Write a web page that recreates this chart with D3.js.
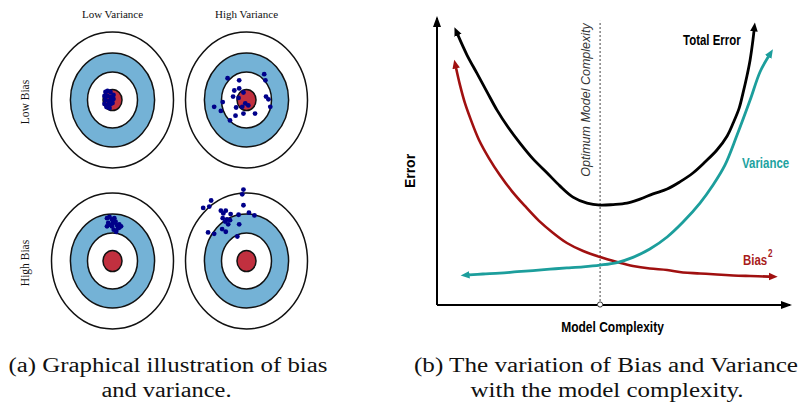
<!DOCTYPE html>
<html><head><meta charset="utf-8">
<script src="https://cdn.jsdelivr.net/npm/d3@7"></script>
<style>html,body{margin:0;padding:0;background:#fff}</style>
</head><body>
<svg id="chart" width="801" height="407"></svg>
<script>
// ---------- Panel (a): bias / variance targets ----------
const varianceLevels = ["Low Variance", "High Variance"];
const biasLevels = ["Low Bias", "High Bias"];
// ring radii in target units (outer ring = 10)
const ringRadii = [10, 6.9, 4.1, 1.56];
const ringFills = ["#ffffff", "#74b2d6", "#ffffff", "#c1303f"];
// shots: [horizontal offset, vertical offset (up = +)] in target units
const shotsLowBiasLowVar = [[-1.15,1.18],[-0.82,1.32],[-0.33,1.18],[-1.31,0.59],[-0.82,0.59],[-0.33,0.44],[-1.15,0],[-0.66,-0.15],[-0.16,0],[0.16,0.74],[-1.31,-0.59],[-0.82,-0.74],[-0.33,-0.59],[0,-0.44],[-0.98,-1.03],[-0.49,-1.18],[0.16,0.15]];
const shotsLowBiasHighVar = [[-3.1,3.2],[-1.2,2.9],[2.9,3.8],[3.1,2.9],[-2.0,1.4],[-1.2,1.7],[-0.5,1.1],[-2.2,0.5],[-1.3,0.3],[-3.9,-0.3],[-5.3,-1.0],[-4.2,-1.6],[-2.7,-3.0],[-1.7,-1.1],[-0.7,-1.0],[-0.2,-0.5],[0.3,-0.8],[-0.5,-2.0],[-1.8,-2.3],[1.4,-2.0],[3.2,0.5],[3.6,0.1],[3.9,-1.0]];
const shotsHighBiasLowVar = [[-0.9,6.3],[-0.7,5.6],[-0.9,5.1],[-0.1,6.1],[0.1,5.6],[0.5,5.8],[0.7,5.3],[1.1,5.4],[1.4,5.1],[0.9,4.8],[0.6,4.3],[-0.1,5.1],[-0.5,6.5],[0.3,6.3],[1.1,4.9],[0.2,4.6],[-0.3,5.3]];
const shotsHighBiasHighVar = [[-0.5,10.5],[-0.7,9.8],[-5.8,8.9],[-6.1,8.0],[-7.1,7.8],[-0.5,8.2],[-4.2,7.4],[-3.4,7.4],[-3.8,7.0],[-2.6,6.9],[-1.3,6.8],[0.4,7.1],[1.3,6.7],[-3.9,6.3],[-3.2,6.1],[-2.7,6.0],[-3.5,5.8],[-3.0,5.4],[-1.2,5.4],[-4.0,4.7],[-3.4,4.3],[-6.3,4.2],[-5.3,4.0],[-1.5,3.6]];

// ---------- Panel (b): error vs model complexity ----------
// [complexity, error] on 0-100 scales
const totalError = [[5.9,94.1],[8.5,87.1],[11.3,80.8],[14.2,74.2],[17.0,67.9],[20.1,62.0],[23.5,56.4],[27.2,50.9],[31.2,46.0],[34.8,41.5],[38.5,37.6],[42.5,35.5],[46.2,34.8],[49.9,35.0],[53.8,35.5],[57.5,36.9],[61.2,38.7],[65.2,40.4],[68.8,42.9],[72.5,46.0],[75.9,49.8],[79.3,54.0],[82.2,58.9],[83.9,63.4],[85.6,68.6],[86.7,73.9],[87.8,79.8],[88.7,85.4],[89.5,92.3],[89.8,95.5]];
const biasSquared = [[5.4,82.6],[6.5,76.7],[7.9,70.4],[9.6,64.5],[11.9,57.5],[14.7,51.2],[17.8,45.3],[21.2,39.7],[24.9,34.5],[28.9,29.3],[32.9,25.1],[36.8,21.6],[41.4,18.8],[46.2,16.7],[51.0,15.0],[55.5,13.6],[60.3,12.7],[65.2,12.2],[69.7,11.3],[74.5,11.0],[79.3,10.6],[83.9,10.3],[88.7,10.1],[94.1,9.9]];
const variance = [[9.1,10.5],[13.0,10.8],[17.8,11.1],[22.7,11.6],[27.2,12.0],[32.0,12.5],[36.8,12.9],[41.4,13.3],[46.2,13.9],[51.0,14.8],[55.5,16.6],[60.3,19.5],[65.2,23.7],[69.7,28.9],[74.5,35.5],[78.2,41.8],[81.6,48.8],[85.0,59.2],[88.7,71.4],[91.5,81.2],[93.9,86.6]];
const optimumComplexity = 46.2;
const seriesLabels = ["Total Error", "Variance", "Bias", "2"];
const axisLabels = ["Error", "Model Complexity", "Optimum Model Complexity"];
const captionA = ["(a) Graphical illustration of bias", "and variance."];
const captionB = ["(b) The variation of Bias and Variance", "with the model complexity."];

const svg = d3.select("#chart");
const defs = svg.append("defs");
function marker(id, color, len, half, refX) {
  defs.append("marker").attr("id", id).attr("markerUnits", "userSpaceOnUse")
    .attr("viewBox", `0 ${-half - 1} ${len + 1} ${2 * half + 2}`)
    .attr("markerWidth", len + 1).attr("markerHeight", 2 * half + 2)
    .attr("refX", refX).attr("refY", 0).attr("orient", "auto-start-reverse")
    .append("path").attr("d", `M0,${-half}L${len},0L0,${half}Z`).attr("fill", color);
}
const cBlack = "#000000", cRed = "#a01010", cTeal = "#1c9e9c";
marker("mAxis", "#000", 11, 4, 9);
marker("mBlack", cBlack, 9, 3.8, 0.5);
marker("mRed", cRed, 9, 3.8, 0.5);
marker("mTeal", cTeal, 9, 3.8, 0.5);

// ----- panel a -----
const colX = d3.scalePoint().domain(varianceLevels).range([112.5, 246.5]);
const rowY = d3.scalePoint().domain(biasLevels).range([100, 261]);
const ux = d3.scaleLinear().domain([0, 10]).range([0, 61]);
const uy = d3.scaleLinear().domain([0, 10]).range([0, -68]);
const shots = {
  "Low Bias": {"Low Variance": shotsLowBiasLowVar, "High Variance": shotsLowBiasHighVar},
  "High Bias": {"Low Variance": shotsHighBiasLowVar, "High Variance": shotsHighBiasHighVar}
};
const cells = [];
biasLevels.forEach(b => varianceLevels.forEach(v => cells.push({b, v, shots: shots[b][v]})));
const gA = svg.append("g");
const cellG = gA.selectAll("g.cell").data(cells).join("g")
  .attr("transform", d => `translate(${colX(d.v)},${rowY(d.b)})`);
cellG.selectAll("ellipse").data(ringRadii.map((r, i) => ({r, fill: ringFills[i]}))).join("ellipse")
  .attr("rx", d => ux(d.r)).attr("ry", d => -uy(d.r))
  .attr("fill", d => d.fill).attr("stroke", "#111").attr("stroke-width", 1.5);
cellG.selectAll("circle").data(d => d.shots).join("circle")
  .attr("cx", d => ux(d[0])).attr("cy", d => uy(d[1])).attr("r", 2.4).attr("fill", "#00008a");

const serif = "'Liberation Serif','Times New Roman',serif";
gA.selectAll("text.col").data(varianceLevels).join("text")
  .attr("x", d => colX(d)).attr("y", 17.5).attr("text-anchor", "middle")
  .attr("font-family", serif).attr("font-size", 11).attr("fill", "#111").text(d => d);
gA.selectAll("text.row").data(biasLevels).join("text")
  .attr("transform", d => `translate(29,${rowY(d) + 2}) rotate(-90)`).attr("text-anchor", "middle")
  .attr("font-family", serif).attr("font-size", 11.5).attr("fill", "#111").text(d => d);

// ----- panel b -----
const x = d3.scaleLinear().domain([0, 100]).range([437, 790]);
const y = d3.scaleLinear().domain([0, 100]).range([305, 18]);
const gB = svg.append("g");
const sans = "'Liberation Sans',Arial,Helvetica,sans-serif";
const condense = 0.74;

// optimum dotted line
gB.append("line").attr("x1", x(optimumComplexity)).attr("x2", x(optimumComplexity))
  .attr("y1", y(0)).attr("y2", y(99))
  .attr("stroke", "#444").attr("stroke-width", 1).attr("stroke-dasharray", "2,2");

// axes
gB.append("path").attr("d", d3.line()([[x(0), y(0)], [x(0), y(100)]]))
  .attr("stroke", "#000").attr("stroke-width", 2).attr("fill", "none").attr("marker-end", "url(#mAxis)");
gB.append("path").attr("d", d3.line()([[x(0), y(0)], [x(100), y(0)]]))
  .attr("stroke", "#000").attr("stroke-width", 2).attr("fill", "none").attr("marker-end", "url(#mAxis)");
gB.append("circle").attr("cx", x(optimumComplexity)).attr("cy", y(0) - 0.5).attr("r", 2.6)
  .attr("fill", "#fff").attr("stroke", "#333").attr("stroke-width", 1);

const line = d3.line().x(d => x(d[0])).y(d => y(d[1])).curve(d3.curveCatmullRom.alpha(0.5));
[[totalError, cBlack, "mBlack", 2.8], [biasSquared, cRed, "mRed", 2.6], [variance, cTeal, "mTeal", 2.8]]
  .forEach(([data, color, m, w]) => {
    gB.append("path").attr("d", line(data)).attr("fill", "none").attr("stroke", color)
      .attr("stroke-width", w).attr("marker-start", `url(#${m})`).attr("marker-end", `url(#${m})`);
  });

// axis labels
gB.append("text").attr("transform", `translate(415,171) rotate(-90)`).attr("text-anchor", "middle")
  .attr("font-family", sans).attr("font-weight", "bold").attr("font-size", 14).text(axisLabels[0]);
gB.append("text").attr("transform", `translate(612.5,332) scale(0.8,1)`).attr("text-anchor", "middle")
  .attr("font-family", sans).attr("font-weight", "bold").attr("font-size", 15).text(axisLabels[1]);
gB.append("text").attr("transform", `translate(590,100) rotate(-90)`).attr("text-anchor", "middle")
  .attr("font-family", sans).attr("font-style", "italic").attr("font-size", 12.5).attr("fill", "#333")
  .text(axisLabels[2]);

// series labels
gB.append("text").attr("transform", `translate(683,45) scale(${condense},1)`)
  .attr("font-family", sans).attr("font-weight", "bold")
  .attr("font-size", 15.5).attr("fill", cBlack).text(seriesLabels[0]);
gB.append("text").attr("transform", `translate(742,168) scale(${condense},1)`)
  .attr("font-family", sans).attr("font-weight", "bold")
  .attr("font-size", 15.5).attr("fill", "#20a2a0").text(seriesLabels[1]);
const bt = gB.append("text").attr("transform", `translate(743,265) scale(${condense},1)`)
  .attr("font-family", sans).attr("font-weight", "bold")
  .attr("font-size", 15.5).attr("fill", "#a81c1c");
bt.append("tspan").text(seriesLabels[2]);
bt.append("tspan").attr("dx", 1).attr("dy", -8).attr("font-size", 11).text(seriesLabels[3]);

// ----- captions -----
const gC = svg.append("g").attr("font-family", serif).attr("font-size", 20).attr("fill", "#111")
  .attr("text-anchor", "middle");
[[captionA[0], 168, 372, 319], [captionA[1], 166.5, 397, 130],
 [captionB[0], 606, 372, 384], [captionB[1], 607, 397, 273]].forEach(([t, cx, cy, len]) => {
  gC.append("text").attr("x", cx).attr("y", cy).attr("textLength", len)
    .attr("lengthAdjust", "spacingAndGlyphs").text(t);
});
</script>
</body></html>
